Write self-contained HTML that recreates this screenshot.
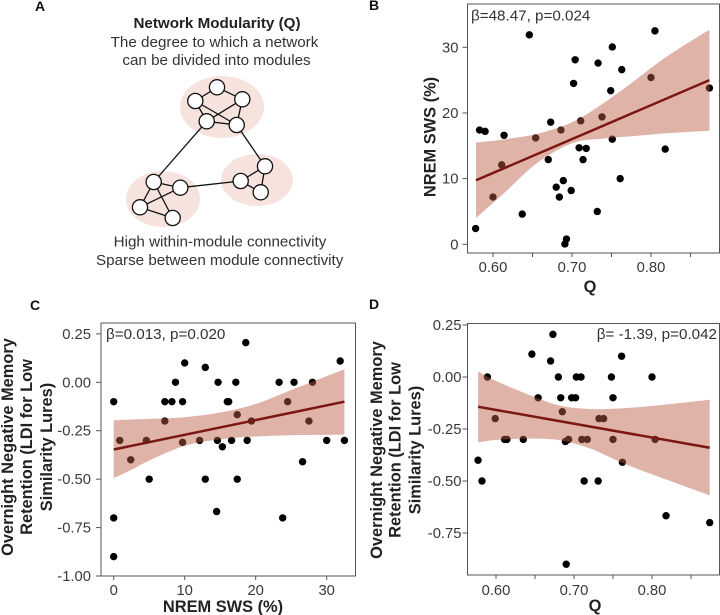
<!DOCTYPE html>
<html lang="en">
<head>
<meta charset="utf-8">
<title>Network modularity, slow wave sleep and memory retention</title>
<style>
html,body{margin:0;padding:0;background:#fff;}
svg{display:block;font-family:"Liberation Sans",Arial,sans-serif;}
.tick{font-size:14.8px;fill:#3a3a3a;}
.axt{font-size:16.4px;font-weight:bold;fill:#222;}
.panel{font-size:14px;font-weight:bold;fill:#111;}
.note{font-size:15.2px;fill:#333;}
.ann{font-size:15.2px;fill:#333;}
.edge{stroke:#111;stroke-width:1.3;fill:none;}
.node{fill:#fff;stroke:#111;stroke-width:1.3;}
.blob{fill:#f6e3de;}
</style>
</head>
<body>
<svg id="fig" xmlns="http://www.w3.org/2000/svg" width="720" height="615" viewBox="0 0 720 615">
  <rect width="720" height="615" fill="#fff"/>

  <text class="panel" x="35" y="11">A</text>
  <text class="panel" x="369" y="10">B</text>
  <text class="panel" x="30" y="310">C</text>
  <text class="panel" x="369" y="309">D</text>

  <g>
    <text x="217" y="28" text-anchor="middle" font-size="15.2" font-weight="bold" fill="#222">Network Modularity (Q)</text>
    <text class="note" x="214.5" y="47" text-anchor="middle">The degree to which a network</text>
    <text class="note" x="216.5" y="65" text-anchor="middle">can be divided into modules</text>

    <ellipse class="blob" cx="222" cy="107" rx="42" ry="31"/>
    <ellipse class="blob" cx="257" cy="180" rx="36" ry="26"/>
    <ellipse class="blob" cx="163" cy="199" rx="37" ry="28"/>

    <g>
      <path class="edge" d="M217 87.3L195.3 101M217 87.3L242.3 99.3M195.3 101L206.7 121.3M195.3 101L236.7 125M242.3 99.3L206.7 121.3M242.3 99.3L236.7 125M206.7 121.3L236.7 125"/>
      <path class="edge" d="M153.7 182L180.3 187.7M153.7 182L140 207.3M153.7 182L172.7 218M180.3 187.7L140 207.3M140 207.3L172.7 218"/>
      <path class="edge" d="M265 166.3L240.7 181M265 166.3L260.7 192.3M240.7 181L260.7 192.3"/>
      <path class="edge" d="M206.7 121.3L153.7 182M236.7 125L265 166.3M180.3 187.7L240.7 181"/>
    </g>
    <g>
      <circle class="node" cx="217" cy="87.3" r="7.6"/>
      <circle class="node" cx="195.3" cy="101" r="7.6"/>
      <circle class="node" cx="242.3" cy="99.3" r="7.6"/>
      <circle class="node" cx="206.7" cy="121.3" r="7.6"/>
      <circle class="node" cx="236.7" cy="125" r="7.6"/>
      <circle class="node" cx="153.7" cy="182" r="7.6"/>
      <circle class="node" cx="180.3" cy="187.7" r="7.6"/>
      <circle class="node" cx="140" cy="207.3" r="7.6"/>
      <circle class="node" cx="172.7" cy="218" r="7.6"/>
      <circle class="node" cx="265" cy="166.3" r="7.6"/>
      <circle class="node" cx="240.7" cy="181" r="7.6"/>
      <circle class="node" cx="260.7" cy="192.3" r="7.6"/>
    </g>
    <text class="note" x="220" y="246.7" text-anchor="middle">High within-module connectivity</text>
    <text class="note" x="219.7" y="265" text-anchor="middle">Sparse between module connectivity</text>
  </g>

  <g id="panel-b"></g>
  <g id="panel-c"></g>
  <g id="panel-d"></g>

  <text class="ann" x="471" y="20.5">β=48.47, p=0.024</text>
  <text class="ann" x="106" y="339">β=0.013, p=0.020</text>
  <text class="ann" x="717" y="339" text-anchor="end">β= -1.39, p=0.042</text>

  <text class="axt" x="590" y="292" text-anchor="middle">Q</text>
  <text class="axt" transform="translate(435.5,137) rotate(-90)" text-anchor="middle">NREM SWS (%)</text>

  <text class="axt" x="223" y="612" text-anchor="middle">NREM SWS (%)</text>
  <text class="axt" transform="translate(13,447) rotate(-90)" text-anchor="middle">Overnight Negative Memory</text>
  <text class="axt" transform="translate(32,447) rotate(-90)" text-anchor="middle">Retention (LDI for Low</text>
  <text class="axt" transform="translate(52,447) rotate(-90)" text-anchor="middle">Similarity Lures)</text>

  <text class="axt" x="595" y="611" text-anchor="middle">Q</text>
  <text class="axt" transform="translate(382,450) rotate(-90)" text-anchor="middle">Overnight Negative Memory</text>
  <text class="axt" transform="translate(400.5,450) rotate(-90)" text-anchor="middle">Retention (LDI for Low</text>
  <text class="axt" transform="translate(420.5,450) rotate(-90)" text-anchor="middle">Similarity Lures)</text>
</svg>

<script>
/* Chart B: NREM SWS (%) against modularity Q */
const bQ = [.578,.583,.590,.614,.600,.611,.637,.646,.654,.670,.673,.680,.684,.686,.689,.691,.693,.699,.702,.704,.709,.711,.714,.718,.732,.733,.738,.749,.751,.751,.761,.763,.800,.805,.818,.874];
const bSws = [2.4,17.4,17.2,16.6,7.2,12.1,4.6,31.9,16.2,12.9,18.6,8.7,7.2,17.4,9.7,0.05,0.8,8.2,24.5,28.1,14.7,18.8,12.9,14.6,5.0,27.6,19.4,23.4,30.05,16.0,10.0,26.6,25.4,32.5,14.5,23.8];
const bFitX = [.5785,.874];
const bFitY = [9.75,25.0];
const bBandX = [.5785,.615,.655,.70,.74,.78,.82,.874];
const bBandHigh = [15.5,16.0,16.8,18.6,21.5,25.0,28.6,32.7];
const bBandLow = [4.0,7.9,12.3,15.4,16.1,16.5,16.9,17.3];
const bXTicks = [.60,.65,.70,.75,.80,.85];
const bXLabels = ["0.60","","0.70","","0.80",""];
const bYTicks = [0,10,20,30];
const bYLabels = ["0","10","20","30"];

/* Chart C: retention against NREM SWS (%) */
const cSws = [0,0,0,.85,2.4,4.6,5.0,7.2,7.2,8.2,8.7,9.7,9.7,10.0,12.1,12.9,12.9,14.5,14.6,14.7,15.3,16.0,16.2,16.6,17.2,17.4,17.4,18.6,18.8,19.4,23.3,23.8,24.5,25.4,26.6,27.5,28.0,30.0,31.9,32.5];
const cRet = [-.10,-.70,-.90,-.30,-.40,-.30,-.50,-.10,-.20,-.10,0,-.10,-.31,.10,-.30,.077,-.50,-.667,-.30,0,-.333,-.10,-.10,-.30,0,-.167,-.50,.205,-.30,-.20,0,-.70,-.10,0,-.41,-.20,0,-.30,.11,-.30];
const cFitX = [0,32.5];
const cFitY = [-.347,-.10];
const cBandX = [0,2.5,5,10,15,20,25,32.5];
const cBandHigh = [-.196,-.192,-.189,-.18,-.156,-.112,-.04,.067];
const cBandLow = [-.495,-.452,-.404,-.328,-.294,-.28,-.273,-.27];
const cXTicks = [0,10,20,30];
const cXLabels = ["0","10","20","30"];
const cYTicks = [.25,0,-.25,-.5,-.75,-1];
const cYLabels = ["0.25","0.00","-0.25","-0.50","-0.75","-1.00"];

/* Chart D: retention against modularity Q */
const dQ = [.577,.582,.589,.599,.611,.614,.635,.646,.654,.670,.673,.680,.683,.685,.689,.690,.693,.697,.702,.703,.709,.710,.713,.717,.731,.732,.738,.748,.750,.750,.761,.762,.800,.804,.818,.874];
const dRet = [-.40,-.50,0,-.20,-.30,-.30,-.30,.11,-.10,.077,.205,0,-.10,-.167,-.31,-.90,-.30,-.10,-.10,0,0,-.30,-.50,-.30,-.50,-.20,-.20,0,-.10,-.30,.10,-.41,0,-.30,-.667,-.70];
const dFitX = [.577,.874];
const dFitY = [-.143,-.34];
const dBandX = [.577,.60,.64,.68,.72,.76,.80,.874];
const dBandHigh = [.027,-.019,-.082,-.136,-.154,-.151,-.139,-.109];
const dBandLow = [-.314,-.303,-.296,-.303,-.343,-.41,-.468,-.569];
const dXTicks = [.60,.65,.70,.75,.80,.85];
const dXLabels = ["0.60","","0.70","","0.80",""];
const dYTicks = [.25,0,-.25,-.5,-.75];
const dYLabels = ["0.25","0.00","-0.25","-0.50","-0.75"];

const SVG_NS = "http://www.w3.org/2000/svg";

function shape(tag, parent, props) {
  const el = document.createElementNS(SVG_NS, tag);
  for (const key in props) el.setAttribute(key, props[key]);
  parent.appendChild(el);
  return el;
}

function linearAxis(value0, pixel0, value1, pixel1) {
  return function (v) {
    return pixel0 + (v - value0) * (pixel1 - pixel0) / (value1 - value0);
  };
}

/* Smooth path segments through a list of [px, py] vertices (Catmull-Rom to Bezier). */
function smoothSegments(pts) {
  let d = "";
  for (let i = 0; i < pts.length - 1; i++) {
    const p0 = pts[Math.max(i - 1, 0)];
    const p1 = pts[i];
    const p2 = pts[i + 1];
    const p3 = pts[Math.min(i + 2, pts.length - 1)];
    const c1x = p1[0] + (p2[0] - p0[0]) / 6;
    const c1y = p1[1] + (p2[1] - p0[1]) / 6;
    const c2x = p2[0] - (p3[0] - p1[0]) / 6;
    const c2y = p2[1] - (p3[1] - p1[1]) / 6;
    d += "C" + c1x.toFixed(1) + " " + c1y.toFixed(1) + " " + c2x.toFixed(1) + " " + c2y.toFixed(1) + " " + p2[0].toFixed(1) + " " + p2[1].toFixed(1);
  }
  return d;
}

function drawChart(spec) {
  const root = document.getElementById(spec.id);
  const x = spec.x;
  const y = spec.y;
  const box = spec.box;

  spec.xs.forEach(function (v, i) {
    const dot = shape("circle", root, {cx: x(v), cy: y(spec.ys[i]), r: 3.7, fill: "#000"});
    
    
  });

  const highEdge = spec.bandX.map(function (v, i) { return [x(v), y(spec.bandHigh[i])]; });
  const lowEdge = spec.bandX.map(function (v, i) { return [x(v), y(spec.bandLow[i])]; }).reverse();
  const bandPath = "M" + highEdge[0][0].toFixed(1) + " " + highEdge[0][1].toFixed(1) + smoothSegments(highEdge) +
    "L" + lowEdge[0][0].toFixed(1) + " " + lowEdge[0][1].toFixed(1) + smoothSegments(lowEdge) + "Z";
  const band = shape("path", root, {d: bandPath, fill: "rgba(189,94,72,.47)"});
  
  

  const fit = shape("line", root, {
    x1: x(spec.fitX[0]), y1: y(spec.fitY[0]),
    x2: x(spec.fitX[1]), y2: y(spec.fitY[1]),
    stroke: "#7b1712", "stroke-width": 2.5
  });
  
  

  const frame = shape("rect", root, {
    x: box.left, y: box.top, width: box.right - box.left, height: box.bottom - box.top,
    fill: "none", stroke: "#555", "stroke-width": 1
  });
  
  

  spec.xTicks.forEach(function (v, i) {
    const mark = shape("line", root, {x1: x(v), y1: box.bottom, x2: x(v), y2: box.bottom + 4, stroke: "#555", "stroke-width": 1});
    
    
    if (spec.xLabels[i]) {
      const label = shape("text", root, {x: x(v), y: spec.xLabelY, "text-anchor": "middle", "class": "tick"});
      
      
      label.textContent = spec.xLabels[i];
    }
  });

  spec.yTicks.forEach(function (v, i) {
    const mark = shape("line", root, {x1: box.left - 5, y1: y(v), x2: box.left, y2: y(v), stroke: "#555", "stroke-width": 1});
    
    
    const label = shape("text", root, {x: box.left - spec.yLabelGap, y: y(v) + 5, "text-anchor": "end", "class": "tick"});
    
    
    label.textContent = spec.yLabels[i];
  });
}

drawChart({
  id: "panel-b",
  x: linearAxis(.6, 493, .8, 651),
  y: linearAxis(0, 244.3, 30, 47.3),
  box: {left: 467.5, right: 719.5, top: 4, bottom: 253},
  xs: bQ, ys: bSws,
  fitX: bFitX, fitY: bFitY,
  bandX: bBandX, bandHigh: bBandHigh, bandLow: bBandLow,
  xTicks: bXTicks, xLabels: bXLabels, xLabelY: 272,
  yTicks: bYTicks, yLabels: bYLabels, yLabelGap: 9
});

drawChart({
  id: "panel-c",
  x: linearAxis(0, 113.7, 30, 326.7),
  y: linearAxis(0, 382.3, -1, 576),
  box: {left: 101, right: 355.5, top: 323, bottom: 576},
  xs: cSws, ys: cRet,
  fitX: cFitX, fitY: cFitY,
  bandX: cBandX, bandHigh: cBandHigh, bandLow: cBandLow,
  xTicks: cXTicks, xLabels: cXLabels, xLabelY: 595,
  yTicks: cYTicks, yLabels: cYLabels, yLabelGap: 10
});

drawChart({
  id: "panel-d",
  x: linearAxis(.6, 496, .8, 652),
  y: linearAxis(0, 377, -.75, 533),
  box: {left: 467.5, right: 719.5, top: 323.5, bottom: 575},
  xs: dQ, ys: dRet,
  fitX: dFitX, fitY: dFitY,
  bandX: dBandX, bandHigh: dBandHigh, bandLow: dBandLow,
  xTicks: dXTicks, xLabels: dXLabels, xLabelY: 595,
  yTicks: dYTicks, yLabels: dYLabels, yLabelGap: 6
});
</script>
</body>
</html>
